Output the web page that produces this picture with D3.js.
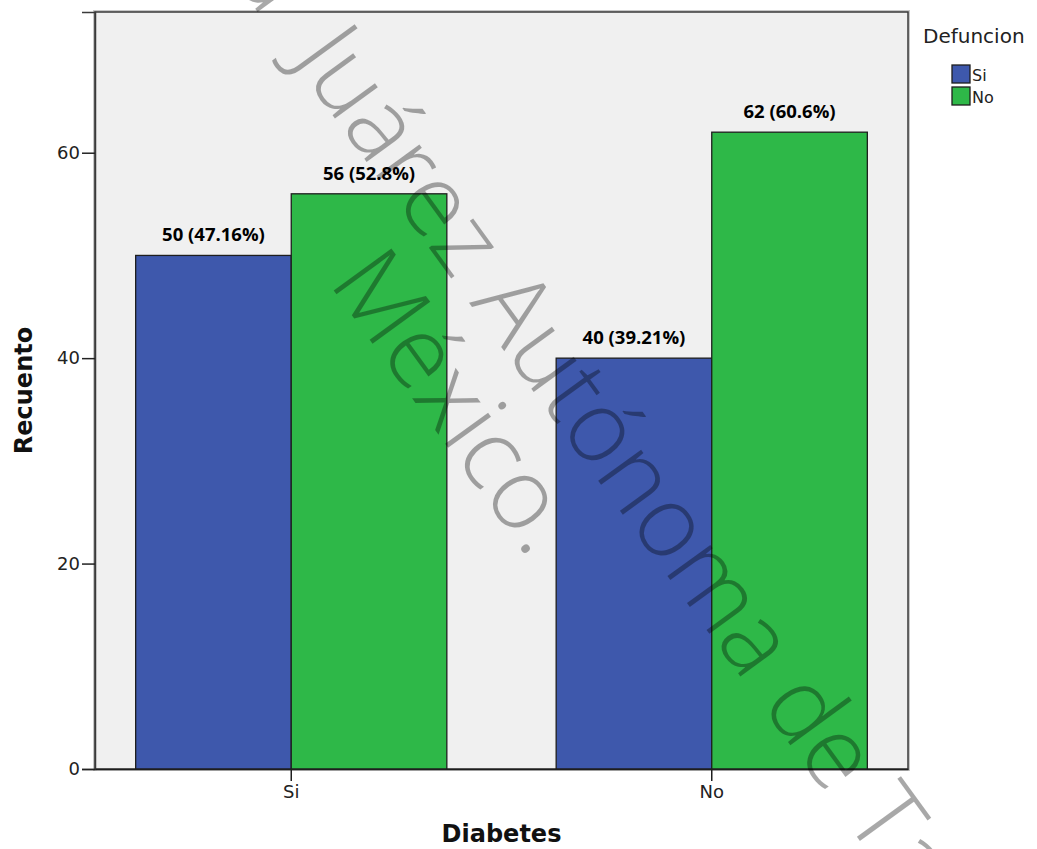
<!DOCTYPE html>
<html>
<head>
<meta charset="utf-8">
<script src="https://cdn.jsdelivr.net/npm/d3@7"></script>
<style>
  html, body { margin: 0; padding: 0; background: #ffffff; }
  svg { display: block; }
</style>
</head>
<body>
<svg id="chart" width="1037" height="849"></svg>
<script>
// ---- data ----
const categories = ["Si", "No"];          // Diabetes
const seriesNames = ["Si", "No"];         // Defuncion
const valuesSi = [50, 40];                // Defuncion = Si
const valuesNo = [56, 62];                // Defuncion = No
const labelsSi = ["50 (47.16%)", "40 (39.21%)"];
const labelsNo = ["56 (52.8%)", "62 (60.6%)"];
const yTicks = [0, 20, 40, 60];
const colors = ["#3e58ac", "#2eb848"];
const watermark1a = "Universidad";
const watermark1b = "Juárez Autónoma de Tabasco";
const watermark2 = "México.";

(function () {
const svg = d3.select("#chart");
const pLeft = 95, pRight = 908, pTop = 12, pBottom = 769;

const y = d3.scaleLinear().domain([0, 73.7]).range([pBottom, pTop]);
const x0 = d3.scaleBand().domain(categories).range([pLeft, pRight])
  .paddingInner(0.26).paddingOuter(0.0967);
const x1 = d3.scaleBand().domain(seriesNames).range([0, x0.bandwidth()]);

const rows = categories.map((c, i) => ({
  cat: c,
  items: [
    { s: seriesNames[0], v: valuesSi[i], label: labelsSi[i] },
    { s: seriesNames[1], v: valuesNo[i], label: labelsNo[i] }
  ]
}));
const color = d3.scaleOrdinal().domain(seriesNames).range(colors);

// plot background + frame shadow
svg.append("rect").attr("x", pLeft - 1).attr("y", pTop - 1)
  .attr("width", pRight - pLeft + 2).attr("height", pBottom - pTop + 2)
  .attr("fill", "none").attr("stroke", "#c8c8c8").attr("stroke-width", 2);
svg.append("rect").attr("x", pLeft).attr("y", pTop)
  .attr("width", pRight - pLeft).attr("height", pBottom - pTop)
  .attr("fill", "#f0f0f0").attr("stroke", "#3a3a3a").attr("stroke-width", 1.5);

// bars
const g = svg.append("g");
const groups = g.selectAll("g.cat").data(rows).join("g")
  .attr("class", "cat")
  .attr("transform", d => `translate(${x0(d.cat)},0)`);
groups.selectAll("rect").data(d => d.items).join("rect")
  .attr("x", d => x1(d.s))
  .attr("y", d => y(d.v))
  .attr("width", x1.bandwidth())
  .attr("height", d => y(0) - y(d.v))
  .attr("fill", d => color(d.s))
  .attr("stroke", "#1e1e1e")
  .attr("stroke-width", 1.3);
groups.selectAll("text").data(d => d.items).join("text")
  .attr("x", d => x1(d.s) + x1.bandwidth() / 2)
  .attr("y", d => y(d.v) - 14)
  .attr("text-anchor", "middle")
  .attr("font-family", "'Open Sans', sans-serif")
  .attr("font-weight", "bold")
  .attr("font-size", 18.5)
  .attr("fill", "#000")
  .text(d => d.label);

// y axis
const yAxis = d3.axisLeft(y).tickValues(yTicks).tickSize(13).tickPadding(2);
const yg = svg.append("g").attr("transform", `translate(${pLeft},0)`).call(yAxis);
yg.select(".domain").attr("stroke", "#3a3a3a").attr("stroke-width", 1.5);
yg.selectAll(".tick line").attr("stroke", "#222").attr("stroke-width", 1.5);
yg.selectAll(".tick text").attr("font-family", "'DejaVu Sans', sans-serif")
  .attr("font-size", 18).attr("fill", "#222");

// x axis
const xAxis = d3.axisBottom(x0).tickSize(12).tickPadding(4).tickSizeOuter(0);
const xg = svg.append("g").attr("transform", `translate(0,${pBottom})`).call(xAxis);
xg.select(".domain").attr("stroke", "#1e1e1e").attr("stroke-width", 1.5);
xg.selectAll(".tick line").attr("stroke", "#1e1e1e").attr("stroke-width", 1.5);
xg.selectAll(".tick text").attr("font-family", "'DejaVu Sans', sans-serif")
  .attr("font-size", 18).attr("fill", "#222");

// axis titles
svg.append("text")
  .attr("x", (pLeft + pRight) / 2).attr("y", 842)
  .attr("text-anchor", "middle")
  .attr("font-family", "'DejaVu Sans', sans-serif")
  .attr("font-weight", "bold").attr("font-size", 24)
  .attr("fill", "#111").text("Diabetes");
svg.append("text")
  .attr("transform", `translate(32,${(pTop + pBottom) / 2}) rotate(-90)`)
  .attr("text-anchor", "middle")
  .attr("font-family", "'DejaVu Sans', sans-serif")
  .attr("font-weight", "bold").attr("font-size", 24)
  .attr("fill", "#111").text("Recuento");

// legend
svg.append("text").attr("x", 923).attr("y", 43)
  .attr("font-family", "'DejaVu Sans', sans-serif")
  .attr("font-size", 20).attr("fill", "#222").text("Defuncion");
const lg = svg.append("g").selectAll("g").data(seriesNames).join("g")
  .attr("transform", (d, i) => `translate(952,${65 + i * 22})`);
lg.append("rect").attr("width", 18).attr("height", 18)
  .attr("fill", d => color(d)).attr("stroke", "#1e1e1e").attr("stroke-width", 1.3);
lg.append("text").attr("x", 20).attr("y", 16)
  .attr("font-family", "'DejaVu Sans', sans-serif")
  .attr("font-size", 16).attr("fill", "#222").text(d => d);

// watermark
const wm = svg.append("g")
  .attr("transform", "translate(291,58) rotate(54)")
  .attr("font-family", "'Open Sans', sans-serif")
  .attr("font-weight", 300)
  .attr("font-size", 100)
  .attr("fill", "#000")
  .attr("fill-opacity", 0.34);
wm.append("text").attr("x", -48).attr("y", 0).attr("text-anchor", "end").text(watermark1a);
wm.append("text").attr("x", 0).attr("y", 0).text(watermark1b);
wm.append("text").attr("x", 203).attr("y", 102).text(watermark2);
})();
</script>
</body>
</html>
